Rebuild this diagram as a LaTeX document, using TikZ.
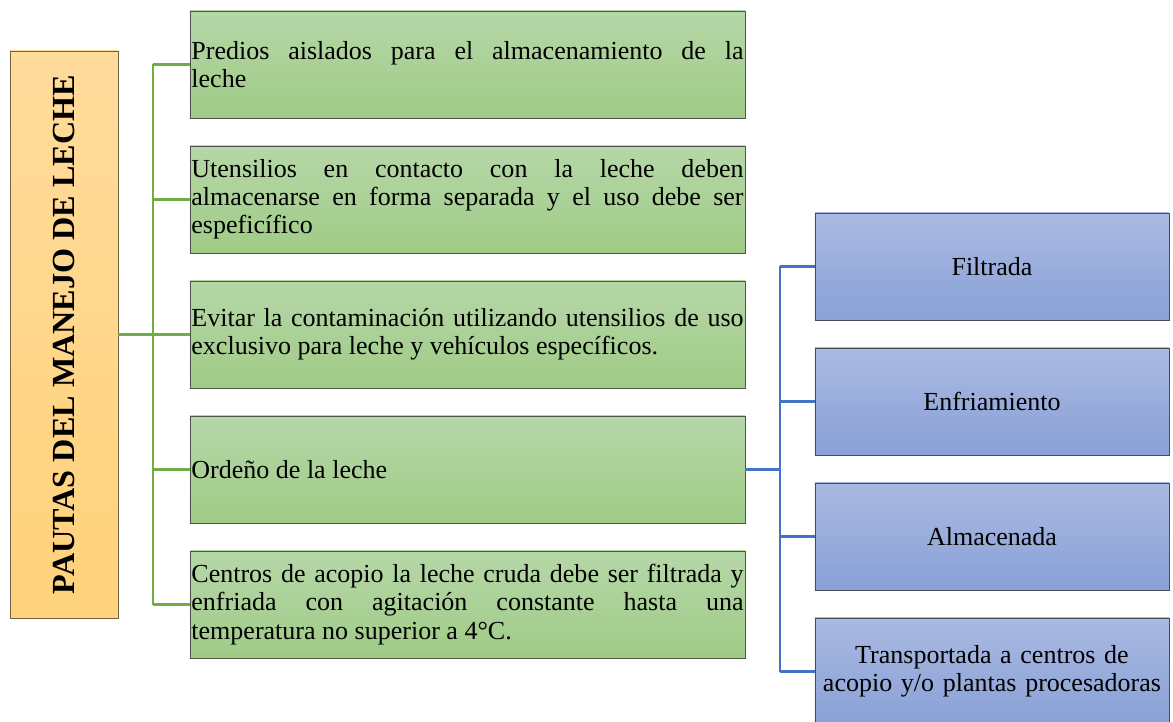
\documentclass[tikz,border=0pt]{standalone}
\usepackage{fontspec}
\setmainfont{Liberation Serif}
\definecolor{naranjaarriba}{HTML}{FFDB9C}
\definecolor{naranjaabajo}{HTML}{FFD27B}
\definecolor{verdearriba}{HTML}{B6D7A8}
\definecolor{verdeabajo}{HTML}{9FCB86}
\definecolor{azularriba}{HTML}{AAB9E1}
\definecolor{azulabajo}{HTML}{89A1D7}
\definecolor{lineaverde}{HTML}{70AD47}
\definecolor{lineaazul}{HTML}{4472C4}
\definecolor{borde}{HTML}{4F5549}
\begin{document}
\begin{tikzpicture}[x=0.025cm,y=-0.025cm]
	\tikzstyle{every node}+=[inner sep=0pt]
	\tikzstyle{titulo}=[draw=borde!70!brown, top color=naranjaarriba, bottom color=naranjaabajo, minimum width=2.7cm, minimum height=14.175cm]
	\tikzstyle{pauta}=[draw=borde, top color=verdearriba, bottom color=verdeabajo, minimum width=13.875cm, minimum height=2.675cm, text width=13.8cm, align=justify, font=\fontsize{18.5}{20}\selectfont]
	\tikzstyle{paso}=[draw=borde!90!blue, top color=azularriba, bottom color=azulabajo, minimum width=8.85cm, minimum height=2.675cm, text width=8.7cm, align=center, font=\fontsize{18.5}{20}\selectfont]
	\tikzstyle{verde}=[lineaverde, line width=2pt]
	\tikzstyle{azul}=[lineaazul, line width=2pt]
	\clip (0,0) rectangle (1173,722);
	\node [titulo] (titulo) at (64,334.5) {};
	\node [rotate=90, font=\fontsize{22.9}{24}\selectfont\bfseries] (titulotexto) at (titulo.center) {PAUTAS DEL MANEJO DE LECHE};
	\node [pauta] (p1) at (467.5,64.5) {Predios aislados para el almacenamiento de la\linebreak leche};
	\node [pauta] (p2) at (467.5,199.5) {Utensilios en contacto con la leche deben\linebreak almacenarse en forma separada y el uso debe ser\linebreak espeficífico};
	\node [pauta] (p3) at (467.5,334.5) {Evitar la contaminación utilizando utensilios de uso\linebreak exclusivo para leche y vehículos específicos.};
	\node [pauta] (p4) at (467.5,469.5) {Ordeño de la leche};
	\node [pauta] (p5) at (467.5,604.5) {Centros de acopio la leche cruda debe ser filtrada y\linebreak enfriada con agitación constante hasta una\linebreak temperatura no superior a 4°C.};
	\node [paso] (b1) at (992,266.5) {Filtrada};
	\node [paso] (b2) at (992,401.5) {Enfriamiento};
	\node [paso] (b3) at (992,536.5) {Almacenada};
	\node [paso] (b4) at (992,671.5) {Transportada a centros de\\acopio y/o plantas procesadoras};
	\coordinate (tronco) at (153,334.5);
	\coordinate (rama) at (780,469.5);
	\draw [verde] (titulo.east) -- (tronco);
	\draw [verde] (tronco |- p1.west) -- (tronco |- p5.west);
	\draw [verde] (tronco |- p1.west) -- (p1.west);
	\draw [verde] (tronco |- p2.west) -- (p2.west);
	\draw [verde] (tronco |- p3.west) -- (p3.west);
	\draw [verde] (tronco |- p4.west) -- (p4.west);
	\draw [verde] (tronco |- p5.west) -- (p5.west);
	\draw [azul] (p4.east) -- (rama);
	\draw [azul] (rama |- b1.west) -- (rama |- b4.west);
	\draw [azul] (rama |- b1.west) -- (b1.west);
	\draw [azul] (rama |- b2.west) -- (b2.west);
	\draw [azul] (rama |- b3.west) -- (b3.west);
	\draw [azul] (rama |- b4.west) -- (b4.west);
\end{tikzpicture}
\end{document}
